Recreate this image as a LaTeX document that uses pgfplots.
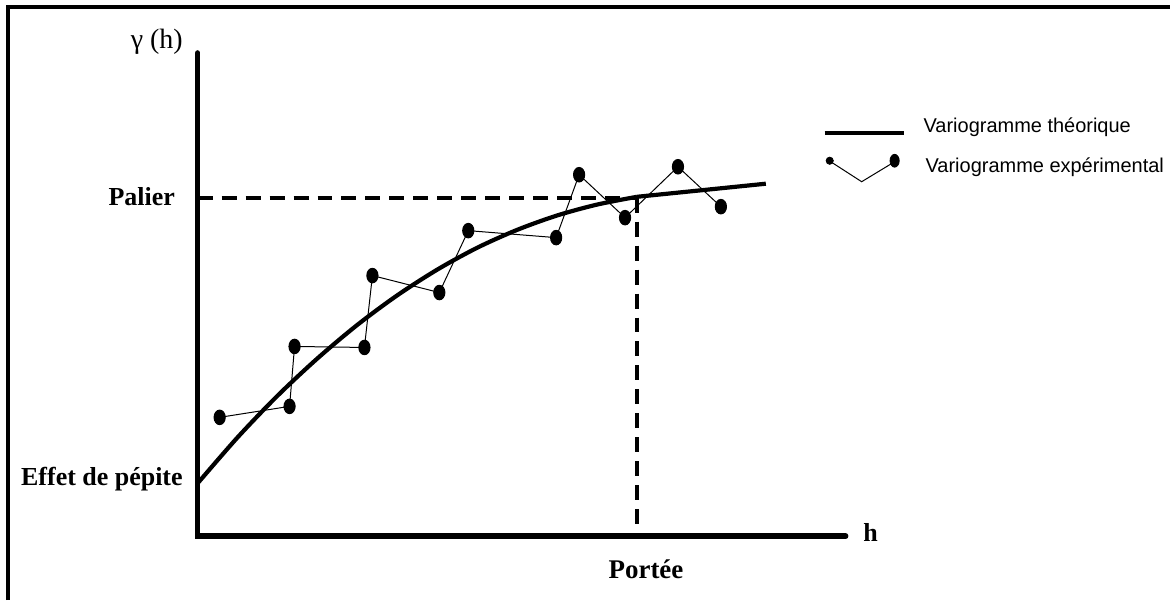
\documentclass[border=0pt]{standalone}
\usepackage{pgfplots}
\pgfplotsset{compat=1.18}
\usepackage{fontspec}
\setmainfont{Liberation Serif}
\newfontfamily\arial{Liberation Sans}

\begin{document}
\begin{tikzpicture}
\begin{axis}[
    width=586pt, height=300.5pt, scale only axis,
    xmin=0, xmax=1172, ymin=0, ymax=601,
    y dir=reverse,
    hide axis, clip=false,
]
% picture frame (page size)
\path (axis cs:0,0) rectangle (axis cs:1172,601);
\draw[line width=1.8pt] (axis cs:8,601) -- (axis cs:8,7) -- (axis cs:1172,7);

% axes
\draw[line width=2.7pt, line cap=round] (axis cs:198,53) -- (axis cs:198,537) -- (axis cs:847,537);

% palier and portee guides
\addplot[black, line width=2pt, dash pattern=on 7.5pt off 4.5pt] coordinates {(198,198) (638,198)};
\addplot[black, line width=2pt, dash pattern=on 7.5pt off 4.5pt] coordinates {(638,198) (638,537)};

% theoretical variogram
\addplot[black, line width=2.1pt, smooth] coordinates {
    (198,484) (238,438) (278,396.3) (318,358.9) (358,325.3) (398,295.7)
    (438,270) (478,248.1) (518,230.2) (558,215.8) (598,204.9) (638,197.1)
};
\addplot[black, line width=2.1pt] coordinates {(638,197.1) (767,184)};

% experimental variogram
\addplot[black, line width=0.5pt, mark=*, mark size=2.8pt,
    mark options={yscale=1.3, fill=black}] coordinates {
    (220,418) (290,407) (295,347) (365,348) (373,276) (440,293)
    (469,231) (557,238) (580,175) (626,218) (679,167) (722,207)
};

% legend samples
\addplot[black, line width=2pt] coordinates {(826,133) (905,133)};
\addplot[black, line width=0.5pt] coordinates {(832,162) (863,182) (896,162)};
\addplot[only marks, mark=*, mark size=1.8pt, mark options={fill=black}] coordinates {(831,161)};
\addplot[only marks, mark=*, mark size=2.3pt, mark options={yscale=1.4, fill=black}] coordinates {(896,161)};

% labels
\node[font=\fontsize{14}{16}\selectfont] at (axis cs:157,42) {γ (h)};
\node[font=\fontsize{13}{15}\selectfont\bfseries] at (axis cs:142,197) {Palier};
\node[font=\fontsize{13}{15}\selectfont\bfseries, anchor=east] at (axis cs:190,480) {Effet de pépite};
\node[font=\fontsize{13}{15}\selectfont\bfseries] at (axis cs:872,533) {h};
\node[font=\fontsize{13.5}{15}\selectfont\bfseries] at (axis cs:647,570) {Portée};
\node[font=\arial\fontsize{10}{12}\selectfont, anchor=west] at (axis cs:918,127) {Variogramme théorique};
\node[font=\arial\fontsize{10}{12}\selectfont, anchor=west] at (axis cs:920,167) {Variogramme expérimental};
\end{axis}
\end{tikzpicture}
\end{document}
